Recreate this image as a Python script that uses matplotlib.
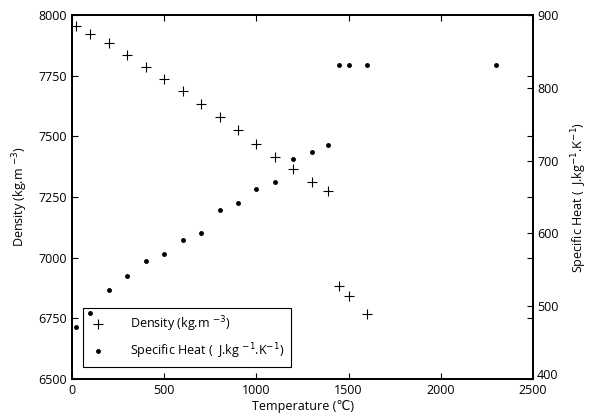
import matplotlib
matplotlib.use("Agg")
from matplotlib import pyplot as plt

plt.rcParams['font.family'] = ['Open Sans', 'DejaVu Sans']
plt.rcParams['font.size'] = 9

# Density data (kg.m^-3)
temp_rho = [20, 100, 200, 300, 400, 500, 600, 700, 800, 900, 1000, 1100,
            1200, 1300, 1390, 1450, 1500, 1600]
rho = [7955, 7923, 7883, 7835, 7787, 7738, 7687, 7633, 7581, 7525, 7468, 7415,
       7365, 7313, 7275, 6883, 6843, 6769]

# Specific heat data (J.kg^-1.K^-1)
temp_cp = [20, 100, 200, 300, 400, 500, 600, 700, 800, 900, 1000, 1100,
           1200, 1300, 1390, 1450, 1500, 1600, 2300]
cp = [471, 491, 522, 541, 562, 572, 591, 601, 632, 642, 661, 671,
      702, 712, 721, 832, 832, 832, 832]

fig = plt.figure(figsize=(5.95, 4.18), dpi=100)
ax1 = fig.add_axes([72/595, 1 - 379/418, 461/595, 364/418])
ax2 = ax1.twinx()

l1, = ax1.plot(temp_rho, rho, 'k+', markersize=7, markeredgewidth=0.8)
l2, = ax2.plot(temp_cp, cp, 'k.', markersize=5)

ax1.set_xlim(0, 2500)
ax1.set_ylim(6500, 8000)
ax1.set_xticks([0, 500, 1000, 1500, 2000, 2500])
ax1.set_yticks([6500, 6750, 7000, 7250, 7500, 7750, 8000])
ax2.set_ylim(400, 900)
ax2.set_yticks([400, 500, 600, 700, 800, 900])

ax1.tick_params(direction='in', top=True, right=True, length=4, width=0.8)
ax2.tick_params(direction='in', length=4, width=0.8, pad=3)
for ax in (ax1, ax2):
    for s in ax.spines.values():
        s.set_linewidth(1.3)

# lift the bottom right label a little so it clears "2500"
ax2.get_yticklabels()[0].set_va('baseline')

ax1.set_xlabel('Temperature (\u2103)', labelpad=2)
ax1.set_ylabel('Density (kg.m $^{-3}$)', labelpad=6)
ax2.set_ylabel('Specific Heat (  J.kg$^{-1}$.K$^{-1}$)', labelpad=8)

leg = ax1.legend([l1, l2], ['Density (kg.m $^{-3}$)', 'Specific Heat (  J.kg $^{-1}$.K$^{-1}$)'],
                 loc='lower left', bbox_to_anchor=(0.01, 0.015), fancybox=False,
                 edgecolor='black', framealpha=1, borderpad=0.5, handletextpad=1.8,
                 handlelength=1.5, labelspacing=0.6)
leg.get_frame().set_linewidth(0.8)

fig.savefig('out.png', dpi=100)
